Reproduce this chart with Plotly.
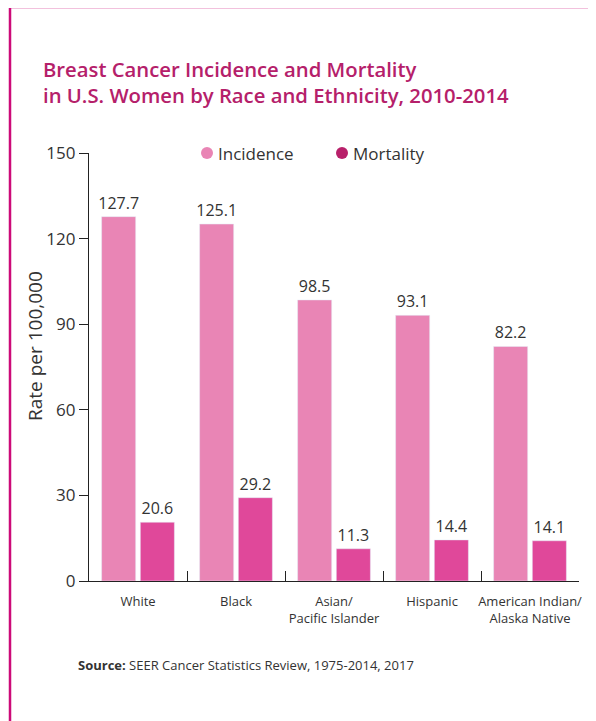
import plotly.graph_objects as go

categories = ["White", "Black", "Asian/<br>Pacific Islander", "Hispanic", "American Indian/<br>Alaska Native"]
incidence = [127.7, 125.1, 98.5, 93.1, 82.2]
mortality = [20.6, 29.2, 11.3, 14.4, 14.1]
y_ticks = [0, 30, 60, 90, 120, 150]
series_names = ["Incidence", "Mortality"]

INC = "#e985b5"
MOR = "#e0489a"
MOR_LEG = "#b8206a"
TITLE = "#b5206a"
BORDER = "#cc0a78"
TXT = "#333333"
FONT = "Open Sans"

# page offset (body margin of the page)
OX, OY = 8, 8
PAGE_W, PAGE_H = 596, 721
W, H = PAGE_W - OX, PAGE_H - OY
# plot area in page pixels
PL, PR, PT, PB = 89, 579, 153, 581
L, R, T, B = PL - OX, PAGE_W - PR, PT - OY, PAGE_H - PB
pw, ph = W - L - R, H - T - B

def px(x):
    return (x - PL) / pw

def py(y):
    return (PB - y) / ph

fig = go.Figure()
for vals, col, name in [(incidence, INC, series_names[0]), (mortality, MOR, series_names[1])]:
    fig.add_trace(go.Bar(x=categories, y=vals, marker_color=col, name=name,
                         text=[f"{v:.1f}" for v in vals], textposition="outside",
                         constraintext="none",
                         textfont=dict(family=FONT, size=16, color=TXT), cliponaxis=False,
                         showlegend=False))

fig.update_layout(
    width=W, height=H,
    margin=dict(l=L, r=R, t=T, b=B, autoexpand=False),
    paper_bgcolor="white", plot_bgcolor="white",
    barmode="group", bargap=0.21, bargroupgap=0.12,
    font=dict(family=FONT, color=TXT),
    title=dict(text="Breast Cancer Incidence and Mortality<br>in U.S. Women by Race and Ethnicity, 2010-2014",
               x=(43 - OX) / W, xanchor="left", xref="container",
               y=1 - (77 - OY) / H, yanchor="top", yref="container",
               font=dict(family=FONT, size=20.3, color=TITLE, weight=600)),
    xaxis=dict(showline=True, linecolor="#222", linewidth=1.3, ticks="inside",
               tickson="boundaries", ticklen=10, tickcolor="#222", tickangle=0,
               ticklabelstandoff=8,
               tickfont=dict(family=FONT, size=13, color=TXT), showgrid=False),
    yaxis=dict(range=[0, 150], tickvals=y_ticks, showline=True, linecolor="#222", linewidth=1.3,
               ticks="outside", ticklen=9, tickcolor="#222", showgrid=False, zeroline=False,
               tickfont=dict(family=FONT, size=17, color=TXT)),
    showlegend=False,
)

# y-axis title
fig.add_annotation(text="Rate per 100,000", xref="paper", yref="paper", x=px(35), y=py(346),
                   xanchor="center", yanchor="middle", textangle=-90, showarrow=False,
                   font=dict(family=FONT, size=19, color=TXT))

# legend drawn as circle shapes + labels
legend_items = [(series_names[0], INC, 207), (series_names[1], MOR_LEG, 342)]
for name, col, xpos in legend_items:
    fig.add_shape(type="circle", xref="paper", yref="paper",
                  xsizemode="pixel", ysizemode="pixel",
                  xanchor=px(xpos), yanchor=py(153),
                  x0=-6, x1=6, y0=-6, y1=6,
                  fillcolor=col, line=dict(width=0))
    fig.add_annotation(text=name, xref="paper", yref="paper", x=px(xpos + 9), y=py(153),
                       xanchor="left", yanchor="middle", showarrow=False,
                       font=dict(family=FONT, size=17, color=TXT))

# page border
fig.add_shape(type="line", xref="paper", yref="paper", x0=px(10), x1=px(10), y0=py(7), y1=py(730),
              line=dict(color=BORDER, width=2.5))
fig.add_shape(type="line", xref="paper", yref="paper", x0=px(10), x1=px(600), y0=py(7), y1=py(7),
              line=dict(color=BORDER, width=2.5))

fig.add_annotation(text="<b>Source:</b> SEER Cancer Statistics Review, 1975-2014, 2017",
                   xref="paper", yref="paper", x=px(76), y=py(665), xanchor="left", yanchor="middle",
                   showarrow=False, font=dict(family=FONT, size=13, color=TXT))

fig.write_html("out.html")
